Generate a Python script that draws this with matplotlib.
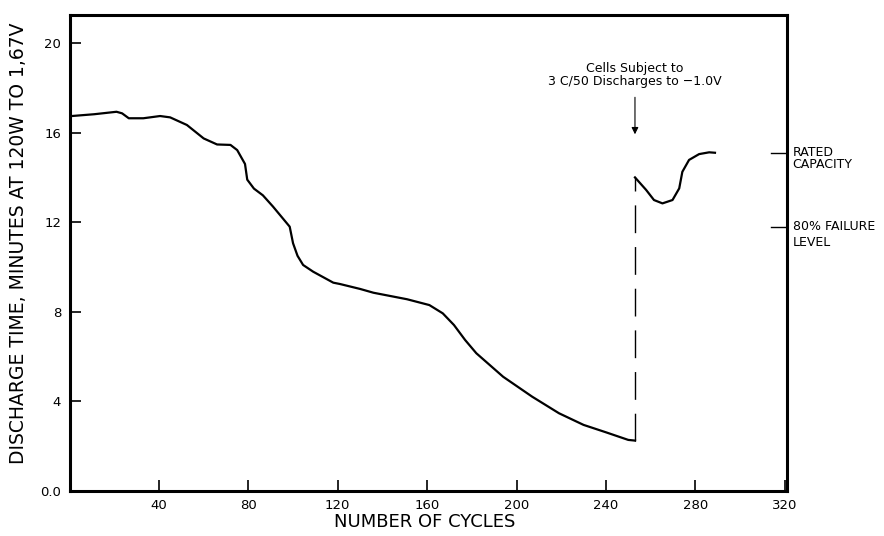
import numpy as np
import matplotlib.pyplot as plt

# discharge time (minutes at 120W to 1.67V) vs number of cycles
cycles = [0, 1, 11, 21, 23.5, 26.5, 33, 40.5, 45, 52.5, 60, 66, 72, 75, 78.5,
          79.5, 82.5, 86.5, 91, 98.5, 100, 102, 104.5, 109, 118, 121, 130, 136,
          151, 161, 167, 172, 177, 182, 194, 207, 219, 230, 240, 250, 253]
discharge = [16.74, 16.74, 16.82, 16.93, 16.86, 16.64, 16.64, 16.74, 16.68, 16.34,
             15.74, 15.47, 15.45, 15.22, 14.6, 13.9, 13.5, 13.2, 12.7, 11.8, 11.06,
             10.5, 10.09, 9.79, 9.3, 9.24, 9.02, 8.85, 8.56, 8.3, 7.93, 7.41, 6.74,
             6.15, 5.1, 4.21, 3.47, 2.95, 2.62, 2.28, 2.25]

# after the C/50 discharges to -1.0V
recovery_cycles = [253, 258, 261.5, 265.3, 269.8, 272.8, 274.2, 277.2, 281.7, 286.2, 288.8]
recovery_discharge = [14.0, 13.44, 12.99, 12.84, 12.99, 13.51, 14.25, 14.78, 15.04, 15.12, 15.1]

rated_capacity = 15.1
failure_level = 11.8

xticks = [40, 80, 120, 160, 200, 240, 280, 320]
yticks = [0, 4, 8, 12, 16, 20]
ytick_labels = ['0.0', '4', '8', '12', '16', '20']

plt.rcParams['font.family'] = ['DejaVu Sans']

fig = plt.figure(figsize=(8.84, 5.36), dpi=100)
ax = fig.add_axes([0.0787, 0.084, 0.8115, 0.888])

ax.plot(cycles, discharge, color='black', lw=1.6)
ax.plot(recovery_cycles, recovery_discharge, color='black', lw=1.6)
# jump after the deep discharge, dashed
ax.plot([cycles[-1], recovery_cycles[0]], [discharge[-1], recovery_discharge[0]],
        color='black', lw=1.0, dashes=(20, 10))

ax.set_xlim(0, 321)
ax.set_ylim(0, 21.25)
ax.set_xticks(xticks)
ax.set_yticks(yticks)
ax.set_yticklabels(ytick_labels)
ax.get_yticklabels()[0].set_fontsize(7)
ax.tick_params(direction='in', length=8, width=1.2, labelsize=9.5, pad=6)

for s in ax.spines.values():
    s.set_linewidth(2.2)

ax.set_xlabel('NUMBER OF CYCLES', fontsize=13)
ax.xaxis.set_label_coords(0.495, -0.047)
ax.set_ylabel('DISCHARGE TIME, MINUTES AT 120W TO 1,67V', fontsize=13.5)
ax.yaxis.set_label_coords(-0.058, 0.52)

# annotation for the deep discharge
ax.annotate('', xy=(253, 15.8), xytext=(253, 17.7),
            arrowprops=dict(arrowstyle='-|>', color='black', lw=0.8, mutation_scale=10))
ax.text(253, 18.88, 'Cells Subject to', ha='center', va='center', fontsize=9)
ax.text(253, 18.26, '3 C/50 Discharges to \u22121.0V', ha='center', va='center', fontsize=9)

# reference levels on the right
ax.plot([314, 321], [rated_capacity, rated_capacity], color='black', lw=1.0, clip_on=False)
ax.plot([314, 321], [failure_level, failure_level], color='black', lw=1.0, clip_on=False)
tr = ax.get_yaxis_transform()
ax.text(1.008, rated_capacity, 'RATED', transform=tr, ha='left', va='center', fontsize=9)
ax.text(1.008, rated_capacity - 0.53, 'CAPACITY', transform=tr, ha='left', va='center', fontsize=9)
ax.text(1.008, failure_level, '80% FAILURE', transform=tr, ha='left', va='center', fontsize=9)
ax.text(1.008, failure_level - 0.7, 'LEVEL', transform=tr, ha='left', va='center', fontsize=9)

fig.savefig('out.png', dpi=100)
